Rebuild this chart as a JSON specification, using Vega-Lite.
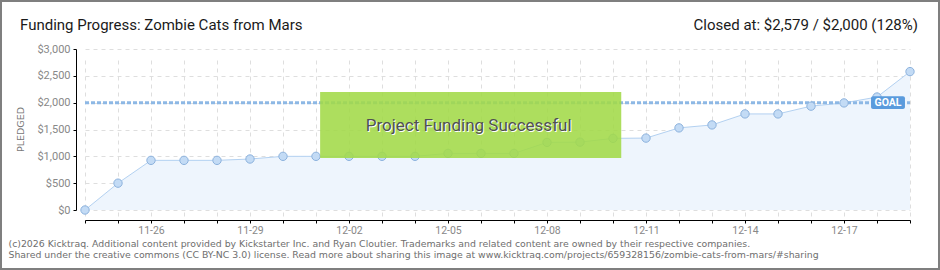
{
  "$schema": "https://vega.github.io/schema/vega-lite/v6.json",
  "width": 940,
  "height": 270,
  "autosize": "none",
  "padding": 0,
  "background": "white",
  "config": {
    "view": {"stroke": "#7f7f7f", "strokeWidth": 4, "fill": "white"},
    "font": "Roboto"
  },
  "datasets": {
    "funding": [
      {"date": "2012-11-24", "pledged": 0},
      {"date": "2012-11-25", "pledged": 500},
      {"date": "2012-11-26", "pledged": 925},
      {"date": "2012-11-27", "pledged": 925},
      {"date": "2012-11-28", "pledged": 925},
      {"date": "2012-11-29", "pledged": 950},
      {"date": "2012-11-30", "pledged": 1000},
      {"date": "2012-12-01", "pledged": 1000},
      {"date": "2012-12-02", "pledged": 1000},
      {"date": "2012-12-03", "pledged": 1000},
      {"date": "2012-12-04", "pledged": 1000},
      {"date": "2012-12-05", "pledged": 1055},
      {"date": "2012-12-06", "pledged": 1055},
      {"date": "2012-12-07", "pledged": 1055},
      {"date": "2012-12-08", "pledged": 1260},
      {"date": "2012-12-09", "pledged": 1265},
      {"date": "2012-12-10", "pledged": 1335},
      {"date": "2012-12-11", "pledged": 1340},
      {"date": "2012-12-12", "pledged": 1530},
      {"date": "2012-12-13", "pledged": 1585},
      {"date": "2012-12-14", "pledged": 1790},
      {"date": "2012-12-15", "pledged": 1790},
      {"date": "2012-12-16", "pledged": 1935},
      {"date": "2012-12-17", "pledged": 1995},
      {"date": "2012-12-18", "pledged": 2105},
      {"date": "2012-12-19", "pledged": 2579}
    ]
  },
  "layer": [
    {
      "data": {"name": "funding"},
      "mark": {"type": "area", "color": "#eef5fd"},
      "encoding": {
        "x": {
          "field": "date",
          "type": "temporal",
          "scale": {
            "type": "utc",
            "domain": [
              {"year": 2012, "month": 11, "date": 24, "utc": true},
              {"year": 2012, "month": 12, "date": 19, "utc": true}
            ],
            "range": [85, 910],
            "nice": false
          },
          "axis": {
            "title": [
              "(c)2026 Kicktraq. Additional content provided by Kickstarter Inc. and Ryan Cloutier. Trademarks and related content are owned by their respective companies.",
              "Shared under the creative commons (CC BY-NC 3.0) license. Read more about sharing this image at www.kicktraq.com/projects/659328156/zombie-cats-from-mars/#sharing"
            ],
            "titleX": 8,
            "titleY": 26,
            "titleAlign": "left",
            "titleAnchor": "start",
            "titleBaseline": "alphabetic",
            "titleFont": "DejaVu Sans",
            "titleFontSize": 9.35,
            "titleFontWeight": "normal",
            "titleColor": "#6e6e6e",
            "titleLineHeight": 11,
            "offset": -50,
            "domainColor": "#000000",
            "domainWidth": 1,
            "tickColor": "#000000",
            "tickSize": 3,
            "tickCount": {"interval": "day", "step": 1},
            "labelExpr": "((datum.value - utc(2012,10,26)) / 86400000) % 3 == 0 ? utcFormat(datum.value, '%m-%d') : ''",
            "labelFont": "Roboto",
            "labelFontSize": 10.5,
            "labelColor": "#888888",
            "labelPadding": 2,
            "labelOverlap": false,
            "labelFlush": false,
            "labelBaseline": "top",
            "grid": true,
            "gridColor": "#dedede",
            "gridDash": [4, 4],
            "gridWidth": 1
          }
        },
        "y": {
          "field": "pledged",
          "type": "quantitative",
          "scale": {"domain": [0, 3000], "range": [210, 49], "nice": false},
          "axis": {
            "title": "PLEDGED",
            "titleX": -53,
            "titleY": 129,
            "titleAngle": 270,
            "titleAlign": "center",
            "titleBaseline": "alphabetic",
            "titleFont": "DejaVu Sans",
            "titleFontSize": 9.5,
            "titleFontWeight": "normal",
            "titleColor": "#777777",
            "offset": -76,
            "values": [0, 250, 500, 750, 1000, 1250, 1500, 1750, 2000, 2250, 2500, 2750, 3000],
            "labelExpr": "datum.value % 500 == 0 ? '$' + format(datum.value, ',') : ''",
            "labelFont": "Roboto",
            "labelFontSize": 11,
            "labelColor": "#888888",
            "labelPadding": 3,
            "tickSize": 3,
            "tickColor": {"condition": {"test": "datum.value % 500 != 0", "value": "#e00000"}, "value": "#000000"},
            "domainColor": "#000000",
            "grid": true,
            "gridColor": "#dedede",
            "gridDash": [4, 4],
            "gridOpacity": {"condition": {"test": "datum.value % 500 != 0", "value": 0}, "value": 1}
          }
        }
      }
    },
    {
      "data": {"name": "funding"},
      "mark": {"type": "line", "color": "#b3d1f1", "strokeWidth": 1},
      "encoding": {
        "x": {"field": "date", "type": "temporal"},
        "y": {"field": "pledged", "type": "quantitative"}
      }
    },
    {
      "data": {"values": [{"goal": 2000}]},
      "mark": {"type": "rule", "color": "#8db8e5", "strokeWidth": 3, "strokeDash": [4, 2]},
      "encoding": {
        "x": {"datum": {"year": 2012, "month": 11, "date": 24, "utc": true}},
        "x2": {"datum": {"year": 2012, "month": 12, "date": 19, "utc": true}},
        "y": {"field": "goal", "type": "quantitative"}
      }
    },
    {
      "data": {"name": "funding"},
      "mark": {"type": "point", "filled": true, "fill": "#c3dbf5", "stroke": "#8cb2dd", "strokeWidth": 1, "size": 70, "opacity": 1},
      "encoding": {
        "x": {"field": "date", "type": "temporal"},
        "y": {"field": "pledged", "type": "quantitative"}
      }
    },
    {
      "data": {"values": [{"label": "GOAL"}]},
      "mark": {"type": "rect", "fill": "#5a9bdd", "cornerRadius": 2},
      "encoding": {
        "x": {"datum": {"year": 2012, "month": 12, "date": 17, "hours": 19, "minutes": 40, "utc": true}},
        "x2": {"datum": {"year": 2012, "month": 12, "date": 18, "hours": 20, "minutes": 20, "utc": true}},
        "y": {"datum": 2120},
        "y2": {"datum": 1880}
      }
    },
    {
      "data": {"values": [{"label": "GOAL"}]},
      "mark": {"type": "text", "color": "white", "fontSize": 10.5, "fontWeight": "bold", "baseline": "middle", "align": "center"},
      "encoding": {
        "x": {"datum": {"year": 2012, "month": 12, "date": 18, "hours": 8, "utc": true}},
        "y": {"datum": 2000},
        "text": {"field": "label"}
      }
    },
    {
      "data": {"values": [{"label": "Project Funding Successful"}]},
      "mark": {"type": "rect", "fill": "#a2d948", "opacity": 0.88},
      "encoding": {
        "x": {"datum": {"year": 2012, "month": 12, "date": 1, "hours": 3, "utc": true}},
        "x2": {"datum": {"year": 2012, "month": 12, "date": 10, "hours": 6, "utc": true}},
        "y": {"datum": 2200},
        "y2": {"datum": 970}
      }
    },
    {
      "data": {"values": [{"label": "Project Funding Successful"}]},
      "mark": {"type": "text", "color": "white", "fontSize": 17, "baseline": "middle", "align": "center", "dx": 1, "dy": 1},
      "encoding": {
        "x": {"datum": {"year": 2012, "month": 12, "date": 5, "hours": 15, "utc": true}},
        "y": {"datum": 1565},
        "text": {"field": "label"}
      }
    },
    {
      "data": {"values": [{"label": "Project Funding Successful"}]},
      "mark": {"type": "text", "color": "#505050", "fontSize": 17, "baseline": "middle", "align": "center"},
      "encoding": {
        "x": {"datum": {"year": 2012, "month": 12, "date": 5, "hours": 15, "utc": true}},
        "y": {"datum": 1565},
        "text": {"field": "label"}
      }
    },
    {
      "data": {"values": [{"label": "Funding Progress: Zombie Cats from Mars"}]},
      "mark": {"type": "text", "color": "#1a1a1a", "fontSize": 15, "baseline": "alphabetic", "align": "left", "dx": -65},
      "encoding": {
        "x": {"datum": {"year": 2012, "month": 11, "date": 24, "utc": true}},
        "y": {"datum": 3363},
        "text": {"field": "label"}
      }
    },
    {
      "data": {"values": [{"label": "Closed at:  $2,579 /  $2,000 (128%)"}]},
      "mark": {"type": "text", "color": "#1a1a1a", "fontSize": 15, "baseline": "alphabetic", "align": "right", "dx": 8},
      "encoding": {
        "x": {"datum": {"year": 2012, "month": 12, "date": 19, "utc": true}},
        "y": {"datum": 3363},
        "text": {"field": "label"}
      }
    }
  ]
}
